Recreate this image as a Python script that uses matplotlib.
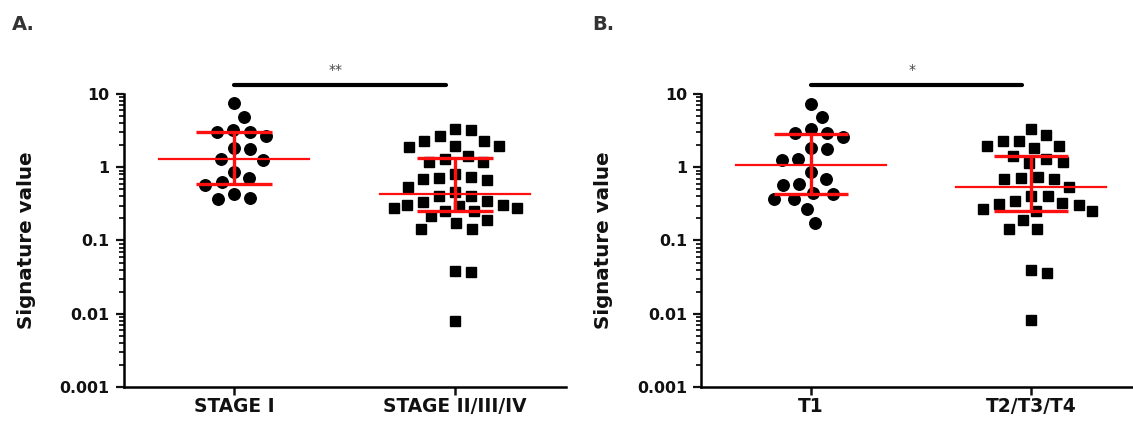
import numpy as np
import matplotlib
matplotlib.use("Agg")
import matplotlib.pyplot as plt
import matplotlib.transforms as mtransforms
from matplotlib.ticker import FixedLocator, LogLocator, NullFormatter

plt.rcParams['font.family'] = 'DejaVu Sans'
plt.rcParams['font.weight'] = 'bold'

# values
stage_i = [7.46, 4.90, 3.26, 3.00, 2.65, 3.00, 1.77, 1.81, 1.27, 1.30, 0.87,
           0.71, 0.62, 0.57, 0.43, 0.37, 0.38]
stage_ii_iv = [3.33, 3.26, 2.70, 2.26, 2.30, 1.97, 1.87, 1.97, 1.41, 1.17, 1.17,
               1.30, 0.73, 0.69, 0.66, 0.71, 0.81, 0.54, 0.455, 0.41, 0.41, 0.35,
               0.34, 0.31, 0.31, 0.30, 0.28, 0.28, 0.255, 0.255, 0.218, 0.192,
               0.173, 0.144, 0.144, 0.0387, 0.0368, 0.0079]
t1 = [7.3, 4.9, 3.3, 2.97, 2.61, 2.97, 1.82, 1.76, 1.30, 1.26, 0.87, 0.60, 0.69,
      0.57, 0.44, 0.43, 0.37, 0.37, 0.27, 0.172]
t2_t4 = [3.3, 2.76, 2.29, 2.31, 1.97, 1.85, 1.97, 1.43, 1.19, 1.30, 1.13, 0.73,
         0.69, 0.69, 0.72, 0.54, 0.40, 0.32, 0.31, 0.256, 0.25, 0.27, 0.315, 0.35,
         0.40, 0.19, 0.144, 0.144, 0.0397, 0.0365, 0.0081]

labels_a = ['STAGE I', 'STAGE II/III/IV']
labels_b = ['T1', 'T2/T3/T4']
stars_a = '**'
stars_b = '*'
ytick_vals = [0.001, 0.01, 0.1, 1, 10]
ytick_labels = ['0.001', '0.01', '0.1', '1', '10']


def place(y, placed, d):
    near = [(px, py) for px, py in placed if abs(py - y) < d]
    cands = [0.0]
    for px, py in near:
        dx = np.sqrt(d * d - (py - y) ** 2)
        cands += [px + dx, px - dx]
    cands.sort(key=abs)
    for c in cands:
        if all((c - px) ** 2 + (y - py) ** 2 >= d * d - 1e-6 for px, py in near):
            return c
    return 0.0


def swarm_x(ax, pos, vals, d, cap):
    # beeswarm in pixel space; rows that get too wide are packed tighter
    vals = np.asarray(vals, dtype=float)
    disp = ax.transData.transform(np.column_stack([np.full(len(vals), pos), vals]))
    x0 = disp[0, 0]
    ys = disp[:, 1]
    xs = np.zeros(len(vals))
    placed = []
    for i in np.argsort(-ys):
        dd = d
        c = place(ys[i], placed, dd)
        while abs(c) > cap and dd > 4:
            dd *= 0.92
            c = place(ys[i], placed, dd)
        xs[i] = c
        placed.append((c, ys[i]))
    back = ax.transData.inverted().transform(np.column_stack([x0 + xs, ys]))
    return back[:, 0]


def draw_panel(ax, groups, labels, stars):
    ax.set_yscale('log')
    ax.set_ylim(0.001, 10)
    ax.set_xlim(-0.5, 1.5)
    for s in ['top', 'right']:
        ax.spines[s].set_visible(False)
    for s in ['left', 'bottom']:
        ax.spines[s].set_linewidth(1.8)

    styles = [dict(marker='o', ms=8.3), dict(marker='s', ms=7.7)]
    for pos, (vals, st) in enumerate(zip(groups, styles)):
        xs = swarm_x(ax, pos, vals, 16.5, 62)
        ax.plot(xs, vals, ls='none', marker=st['marker'], ms=st['ms'],
                color='black', mec='black', zorder=3, clip_on=False)
        q1, med, q3 = np.percentile(vals, [25, 50, 75], method='weibull')
        ax.plot([pos - 0.34, pos + 0.34], [med, med], color='#ff1010', lw=1.6, zorder=4)
        ax.hlines([q1, q3], pos - 0.17, pos + 0.17, color='#ff1010', lw=2.4, zorder=4)
        ax.vlines(pos, q1, q3, color='#ff1010', lw=2.4, zorder=4)

    ax.xaxis.set_major_locator(FixedLocator([0, 1]))
    ax.set_xticklabels(labels, fontsize=13.4, fontweight='bold')
    ax.yaxis.set_major_locator(FixedLocator(ytick_vals))
    ax.set_yticklabels(ytick_labels, fontsize=11.4, fontweight='bold')
    ax.yaxis.set_minor_locator(LogLocator(base=10, subs=np.arange(2, 10)))
    ax.yaxis.set_minor_formatter(NullFormatter())
    ax.tick_params(axis='x', length=6, width=1.8, pad=1.5, colors='#111111')
    ax.tick_params(axis='y', which='major', length=6, width=1.6, pad=4, colors='#111111')
    ax.tick_params(axis='y', which='minor', length=3.3, width=1.2)
    ax.set_ylabel('Signature value', fontsize=14.3, fontweight='bold', color='#111111')
    ax.yaxis.set_label_coords(-0.199, 0.5)

    trans = mtransforms.blended_transform_factory(ax.transData, ax.transAxes)
    ax.plot([0, 0.96], [1.031, 1.031], transform=trans, color='black', lw=3,
            solid_capstyle='round', clip_on=False)
    ax.text(0.46, 1.082, stars, transform=trans, ha='center', va='center',
            fontsize=10, fontweight='normal', color='#444444')


fig = plt.figure(figsize=(11.33, 4.23), dpi=100)
W, H = 1133.0, 423.0
ax_a = fig.add_axes([123.5 / W, 36 / H, 442 / W, 293 / H])
ax_b = fig.add_axes([701 / W, 36 / H, 440 / W, 293 / H])

draw_panel(ax_a, [stage_i, stage_ii_iv], labels_a, stars_a)
draw_panel(ax_b, [t1, t2_t4], labels_b, stars_b)

fig.text(12 / W, 1 - 25 / H, 'A.', fontsize=14, fontweight='bold', color='#333333', va='center')
fig.text(592 / W, 1 - 25 / H, 'B.', fontsize=14, fontweight='bold', color='#333333', va='center')

fig.savefig('out.png', dpi=100)
